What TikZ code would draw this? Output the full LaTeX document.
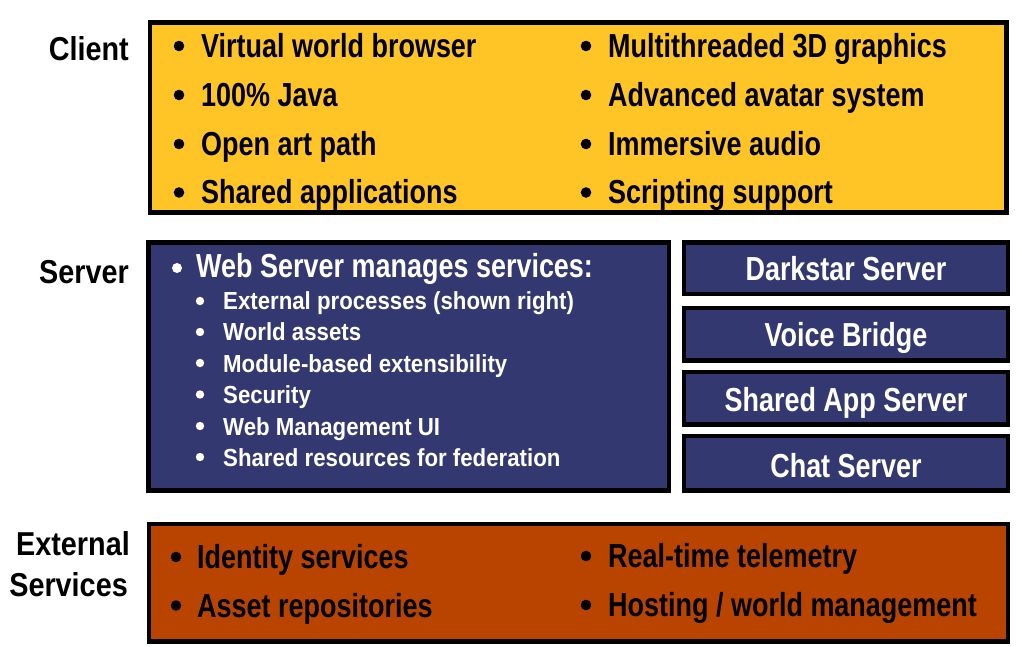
\documentclass[tikz,border=0pt]{standalone}
\usepackage{fontspec}
\newfontfamily\mainf{Liberation Sans}[FakeStretch=0.81]
\newfontfamily\subf{Liberation Sans}[FakeStretch=0.9]
\newfontfamily\labf{Liberation Sans}[FakeStretch=0.87]
\definecolor{cyellow}{RGB}{255,196,37}
\definecolor{cnavy}{RGB}{51,56,113}
\definecolor{crust}{RGB}{184,68,0}
\begin{document}
\begin{tikzpicture}[x=1pt,y=-1pt,
  box/.style={draw=black,line width=4.6pt},
  big/.style={font=\mainf\bfseries\fontsize{33.3}{38}\selectfont, inner sep=0pt},
  small/.style={font=\subf\bfseries\fontsize{24.7}{28}\selectfont, inner sep=0pt},
  lab/.style={font=\labf\bfseries\fontsize{33.1}{38}\selectfont, inner sep=0pt, anchor=base east},
  bl/.style={anchor=base west},
  ctr/.style={anchor=base},
]
\useasboundingbox[fill=white] (0,0) rectangle (1021,647);

% boxes
\filldraw[box, fill=cyellow] (150,22.5) rectangle (1006.5,212.5);
\filldraw[box, fill=cnavy] (148.5,242.5) rectangle (669,490.5);
\filldraw[box, fill=cnavy] (684,242.5) rectangle (1008,294);
\filldraw[box, fill=cnavy] (684,308) rectangle (1008,360.5);
\filldraw[box, fill=cnavy] (684,372) rectangle (1008,424.5);
\filldraw[box, fill=cnavy] (684,436) rectangle (1008,490.5);
\filldraw[box, fill=crust] (149,524) rectangle (1008,641.5);

% labels
\node[lab] (lclient) at (129,61) {Client};
\node[lab] (lserver) at (129,283.5) {Server};
\node[lab] (lext1) at (130,555) {External};
\node[lab] (lext2) at (128,596.7) {Services};

% client
\foreach \yy in {57.5,106.5,155.5,204} {
  \fill[black] (179,\yy-11.5) circle[radius=5.3pt];
  \fill[black] (586,\yy-11.5) circle[radius=5.3pt];
}
\node[big,bl] (c1) at (201,57.5) {Virtual world browser};
\node[big,bl] (c2) at (201,106.5) {100\% Java};
\node[big,bl] (c3) at (201,155.5) {Open art path};
\node[big,bl] (c4) at (201,204) {Shared applications};
\node[big,bl] (c5) at (608,57.5) {Multithreaded 3D graphics};
\node[big,bl] (c6) at (608,106.5) {Advanced avatar system};
\node[big,bl] (c7) at (608,155.5) {Immersive audio};
\node[big,bl] (c8) at (608,204) {Scripting support};

% server
\fill[white] (177,268) circle[radius=5pt];
\node[big,bl,text=white] (s0) at (196,278) {Web Server manages services:};
\foreach \yy in {310,341,372,403.5,435,466} {
  \fill[white] (200,\yy-9) circle[radius=4.2pt];
}
\node[small,bl,text=white] (s1) at (223,310) {External processes (shown right)};
\node[small,bl,text=white] (s2) at (223,341) {World assets};
\node[small,bl,text=white] (s3) at (223,372) {Module-based extensibility};
\node[small,bl,text=white] (s4) at (223,403.5) {Security};
\node[small,bl,text=white] (s5) at (223,435) {Web Management UI};
\node[small,bl,text=white] (s6) at (223,466) {Shared resources for federation};

\node[big,ctr,text=white] (r1) at (846,281) {Darkstar Server};
\node[big,ctr,text=white] (r2) at (846,347) {Voice Bridge};
\node[big,ctr,text=white] (r3) at (846,411) {Shared App Server};
\node[big,ctr,text=white] (r4) at (846,477) {Chat Server};

% external
\fill[black] (176,557) circle[radius=5.3pt];
\fill[black] (176,605.5) circle[radius=5.3pt];
\fill[black] (586,556) circle[radius=5.3pt];
\fill[black] (586,605) circle[radius=5.3pt];
\node[big,bl] (e1) at (197,568.5) {Identity services};
\node[big,bl] (e2) at (197,617) {Asset repositories};
\node[big,bl] (e3) at (608,567.5) {Real-time telemetry};
\node[big,bl] (e4) at (608,616.5) {Hosting / world management};
\end{tikzpicture}
\end{document}
